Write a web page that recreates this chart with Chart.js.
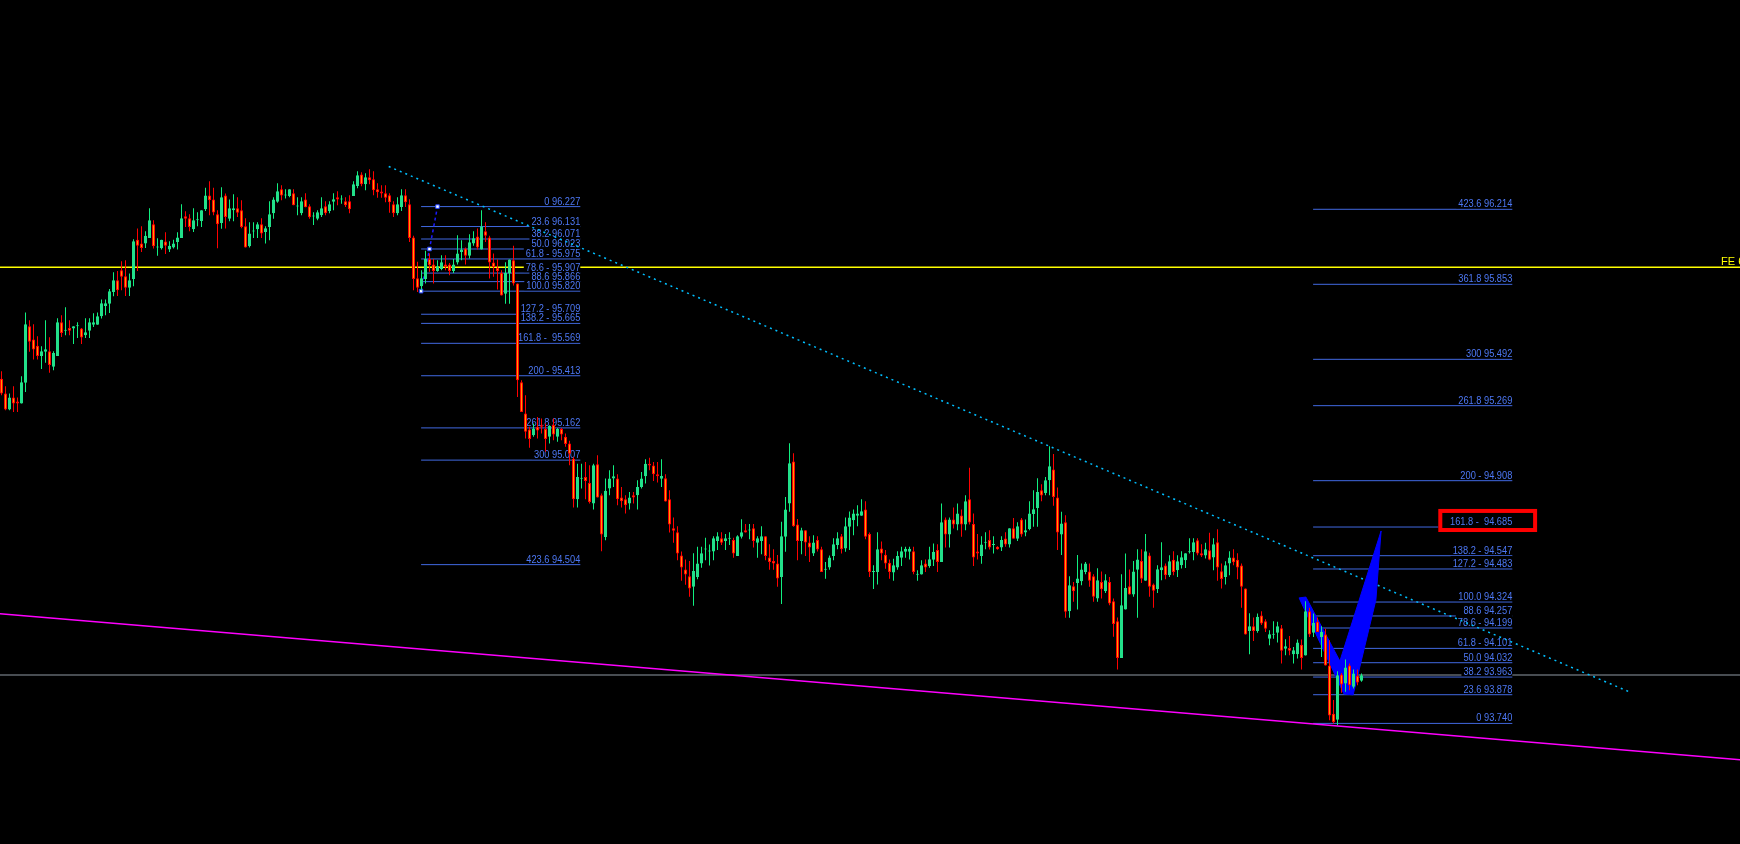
<!DOCTYPE html>
<html>
<head>
<meta charset="utf-8">
<script src="https://cdn.jsdelivr.net/npm/chart.js@4.4.0/dist/chart.umd.min.js"></script>
<style>
  html, body { margin: 0; padding: 0; background: #000; overflow: hidden; }
  canvas { display: block; }
</style>
</head>
<body>
<canvas id="chart" width="1740" height="844"></canvas>
<script>
// candles (one per bar, left to right)
const opens = [
  95.399,95.327,95.250,95.308,95.289,95.279,95.379,95.651,95.587,95.557,
  95.508,95.528,95.531,95.456,95.508,95.670,95.629,95.643,95.640,95.651,
  95.640,95.608,95.629,95.658,95.658,95.699,95.749,95.760,95.816,95.873,
  95.921,95.892,95.836,95.879,96.068,96.049,96.049,96.076,96.142,96.030,
  96.027,96.059,96.020,96.030,96.057,96.076,96.181,96.171,96.118,96.161,
  96.158,96.214,96.280,96.261,96.190,96.148,96.280,96.168,96.209,96.219,
  96.209,96.132,96.036,96.107,96.118,96.142,96.105,96.129,96.195,96.250,
  96.310,96.280,96.278,96.291,96.227,96.195,96.261,96.229,96.179,96.168,
  96.185,96.229,96.206,96.250,96.272,96.261,96.253,96.253,96.278,96.326,
  96.381,96.335,96.368,96.359,96.310,96.300,96.291,96.282,96.238,96.195,
  96.225,96.282,96.238,96.078,95.882,95.844,95.879,95.975,95.948,95.917,
  95.927,95.948,95.948,95.917,95.958,96.009,96.025,95.990,96.049,96.083,
  96.020,96.108,96.078,95.958,95.932,95.909,95.808,95.905,95.969,95.857,
  95.382,95.231,95.154,95.127,95.167,95.175,95.157,95.119,95.176,95.119,
  95.157,95.119,95.087,95.014,94.819,94.917,94.926,94.897,94.798,94.987,
  94.838,94.637,94.870,94.918,94.918,94.827,94.819,94.798,94.838,94.838,
  94.878,94.929,94.990,94.981,94.939,94.917,94.920,94.819,94.679,94.660,
  94.548,94.481,94.448,94.397,94.445,94.509,94.577,94.567,94.567,94.618,
  94.631,94.618,94.628,94.622,94.546,94.638,94.670,94.668,94.679,94.609,
  94.618,94.641,94.538,94.521,94.509,94.445,94.638,94.798,95.000,94.697,
  94.618,94.670,94.610,94.558,94.622,94.578,94.479,94.490,94.546,94.598,
  94.641,94.582,94.686,94.718,94.739,94.739,94.769,94.651,94.468,94.469,
  94.582,94.551,94.513,94.466,94.490,94.537,94.566,94.566,94.569,94.455,
  94.456,94.509,94.498,94.527,94.574,94.517,94.721,94.649,94.721,94.697,
  94.740,94.697,94.819,94.699,94.567,94.546,94.609,94.622,94.599,94.590,
  94.586,94.630,94.601,94.679,94.628,94.721,94.659,94.676,94.748,94.777,
  94.862,94.849,94.910,94.962,94.827,94.649,94.708,94.280,94.400,94.416,
  94.424,94.469,94.471,94.448,94.341,94.420,94.376,94.420,94.328,94.232,
  94.055,94.288,94.400,94.360,94.479,94.521,94.426,94.548,94.408,94.387,
  94.477,94.500,94.453,94.528,94.477,94.501,94.525,94.564,94.565,94.621,
  94.559,94.548,94.573,94.538,94.612,94.472,94.445,94.509,94.538,94.528,
  94.500,94.389,94.185,94.208,94.185,94.259,94.232,94.147,94.166,94.176,
  94.198,94.099,94.103,94.073,94.073,94.119,94.067,94.280,94.176,94.229,
  94.156,94.168,94.018,93.787,93.757,93.975,93.932,94.018,93.916,93.969,
  93.945
];
const highs = [
  95.435,95.362,95.327,95.362,95.308,95.411,95.717,95.680,95.661,95.603,
  95.555,95.680,95.598,95.531,95.690,95.704,95.743,95.680,95.651,95.670,
  95.643,95.690,95.690,95.714,95.717,95.780,95.780,95.831,95.911,95.917,
  95.964,95.969,95.905,96.070,96.121,96.132,96.108,96.219,96.161,96.075,
  96.068,96.104,96.060,96.068,96.104,96.238,96.205,96.190,96.219,96.200,
  96.209,96.318,96.349,96.318,96.209,96.320,96.290,96.261,96.286,96.272,
  96.258,96.171,96.152,96.152,96.152,96.171,96.132,96.253,96.272,96.339,
  96.330,96.310,96.310,96.310,96.272,96.272,96.291,96.238,96.200,96.209,
  96.272,96.253,96.253,96.291,96.301,96.282,96.272,96.282,96.349,96.397,
  96.392,96.387,96.407,96.397,96.339,96.330,96.330,96.291,96.253,96.272,
  96.310,96.310,96.262,96.087,95.961,95.921,96.014,96.001,95.975,95.969,
  95.993,95.993,95.956,95.975,96.089,96.065,96.030,96.094,96.108,96.121,
  96.209,96.152,96.087,96.001,95.972,95.921,95.959,95.972,96.039,95.857,
  95.391,95.319,95.167,95.183,95.215,95.207,95.183,95.175,95.207,95.162,
  95.162,95.135,95.100,95.022,94.990,94.990,94.998,94.982,94.990,95.030,
  94.846,94.918,94.958,94.982,94.939,94.878,94.838,94.854,94.854,94.910,
  94.950,95.011,95.018,94.998,94.998,95.011,94.939,94.862,94.731,94.689,
  94.567,94.529,94.521,94.559,94.590,94.590,94.633,94.601,94.641,94.660,
  94.660,94.651,94.660,94.633,94.646,94.723,94.699,94.699,94.699,94.641,
  94.689,94.641,94.602,94.578,94.550,94.710,94.830,95.088,95.040,94.724,
  94.681,94.670,94.641,94.646,94.641,94.590,94.517,94.548,94.631,94.660,
  94.651,94.731,94.760,94.769,94.790,94.819,94.809,94.659,94.501,94.660,
  94.615,94.574,94.529,94.532,94.569,94.590,94.590,94.590,94.590,94.477,
  94.525,94.529,94.590,94.606,94.602,94.798,94.731,94.731,94.779,94.798,
  94.769,94.838,94.970,94.750,94.651,94.641,94.660,94.670,94.641,94.592,
  94.641,94.660,94.679,94.728,94.708,94.728,94.721,94.809,94.862,94.920,
  94.891,94.926,95.074,95.036,94.875,94.758,94.742,94.448,94.421,94.550,
  94.509,94.517,94.509,94.458,94.487,94.471,94.458,94.445,94.341,94.250,
  94.458,94.558,94.481,94.521,94.578,94.578,94.651,94.561,94.413,94.501,
  94.612,94.509,94.549,94.569,94.549,94.569,94.559,94.631,94.631,94.631,
  94.602,94.609,94.657,94.631,94.674,94.509,94.520,94.569,94.578,94.559,
  94.509,94.389,94.270,94.249,94.269,94.280,94.241,94.188,94.232,94.229,
  94.213,94.145,94.160,94.108,94.144,94.144,94.328,94.296,94.269,94.249,
  94.208,94.196,94.140,93.852,93.991,93.983,94.047,94.028,93.999,93.999,
  93.980
];
const lows = [
  95.319,95.247,95.247,95.239,95.239,95.279,95.335,95.528,95.491,95.491,
  95.446,95.475,95.427,95.440,95.508,95.600,95.608,95.608,95.566,95.595,
  95.566,95.595,95.595,95.648,95.658,95.688,95.704,95.715,95.796,95.797,
  95.824,95.797,95.797,95.844,95.917,96.009,96.028,96.076,96.025,95.990,
  96.020,95.999,96.009,96.025,96.020,96.076,96.129,96.108,96.105,96.132,
  96.129,96.206,96.185,96.185,96.027,96.120,96.121,96.156,96.156,96.177,
  96.123,96.030,96.030,96.076,96.076,96.076,96.049,96.065,96.168,96.246,
  96.258,96.266,96.272,96.233,96.185,96.185,96.224,96.168,96.139,96.161,
  96.177,96.185,96.195,96.209,96.233,96.241,96.225,96.195,96.278,96.315,
  96.325,96.306,96.335,96.282,96.269,96.269,96.248,96.197,96.177,96.185,
  96.206,96.225,96.057,95.824,95.816,95.824,95.857,95.913,95.857,95.913,
  95.921,95.921,95.897,95.908,95.948,95.969,95.948,95.977,96.039,96.020,
  96.020,96.057,95.881,95.889,95.828,95.799,95.760,95.760,95.847,95.311,
  95.239,95.111,95.067,95.119,95.111,95.135,95.047,95.087,95.103,95.095,
  95.103,95.071,94.982,94.779,94.779,94.870,94.819,94.798,94.769,94.827,
  94.569,94.621,94.838,94.878,94.790,94.779,94.750,94.769,94.798,94.769,
  94.870,94.894,94.958,94.907,94.899,94.878,94.808,94.659,94.609,94.525,
  94.426,94.407,94.349,94.306,94.434,94.489,94.525,94.500,94.525,94.574,
  94.598,94.574,94.598,94.537,94.546,94.630,94.659,94.626,94.586,94.537,
  94.554,94.525,94.479,94.479,94.397,94.315,94.566,94.758,94.686,94.525,
  94.554,94.546,94.517,94.546,94.567,94.469,94.436,94.479,94.525,94.578,
  94.558,94.566,94.574,94.646,94.689,94.739,94.626,94.445,94.387,94.408,
  94.525,94.484,94.436,94.426,94.479,94.498,94.537,94.529,94.458,94.426,
  94.456,94.469,94.489,94.498,94.469,94.517,94.586,94.586,94.678,94.670,
  94.638,94.670,94.697,94.498,94.529,94.508,94.578,94.577,94.558,94.576,
  94.570,94.590,94.586,94.628,94.618,94.638,94.641,94.670,94.686,94.686,
  94.809,94.838,94.838,94.787,94.574,94.550,94.248,94.248,94.325,94.288,
  94.405,94.458,94.397,94.325,94.325,94.341,94.368,94.309,94.157,93.999,
  94.055,94.288,94.360,94.349,94.248,94.416,94.426,94.349,94.296,94.368,
  94.429,94.434,94.445,94.453,94.445,94.485,94.488,94.557,94.525,94.549,
  94.541,94.533,94.525,94.477,94.426,94.389,94.408,94.453,94.501,94.434,
  94.296,94.168,94.073,94.137,94.176,94.213,94.180,94.116,94.147,94.129,
  94.028,94.068,94.068,94.028,94.052,93.999,94.067,94.156,94.156,94.180,
  94.060,94.018,93.755,93.739,93.731,93.887,93.892,93.900,93.908,93.924,
  93.940
];
const closes = [
  95.327,95.250,95.308,95.279,95.279,95.382,95.661,95.576,95.539,95.508,
  95.531,95.541,95.465,95.523,95.670,95.619,95.632,95.629,95.651,95.653,
  95.597,95.622,95.670,95.670,95.699,95.762,95.762,95.820,95.873,95.824,
  95.889,95.836,95.873,96.060,96.039,96.028,96.087,96.161,96.036,96.031,
  96.068,96.039,96.039,96.049,96.078,96.171,96.168,96.129,96.161,96.163,
  96.209,96.280,96.258,96.198,96.142,96.272,96.177,96.219,96.219,96.197,
  96.129,96.030,96.097,96.110,96.142,96.097,96.123,96.190,96.261,96.301,
  96.280,96.283,96.310,96.233,96.230,96.253,96.224,96.176,96.182,96.200,
  96.219,96.195,96.238,96.262,96.261,96.264,96.233,96.214,96.335,96.378,
  96.335,96.368,96.354,96.306,96.296,96.290,96.269,96.248,96.195,96.238,
  96.282,96.248,96.076,95.879,95.836,95.882,95.975,95.945,95.917,95.940,
  95.959,95.937,95.917,95.948,96.001,96.020,95.990,96.055,96.075,96.030,
  96.131,96.087,95.958,95.935,95.917,95.799,95.909,95.972,95.857,95.391,
  95.239,95.143,95.109,95.159,95.149,95.167,95.109,95.172,95.130,95.157,
  95.130,95.085,95.038,94.819,94.926,94.920,94.907,94.806,94.982,94.827,
  94.649,94.859,94.918,94.929,94.819,94.809,94.790,94.827,94.827,94.878,
  94.918,94.990,94.981,94.939,94.929,94.930,94.808,94.697,94.667,94.558,
  94.490,94.456,94.389,94.473,94.509,94.559,94.580,94.570,94.631,94.641,
  94.609,94.631,94.631,94.558,94.641,94.660,94.659,94.671,94.618,94.631,
  94.641,94.546,94.517,94.509,94.437,94.641,94.769,94.992,94.689,94.618,
  94.670,94.610,94.586,94.610,94.577,94.469,94.482,94.538,94.602,94.631,
  94.578,94.689,94.731,94.750,94.750,94.761,94.638,94.469,94.471,94.578,
  94.558,94.509,94.469,94.501,94.546,94.569,94.580,94.580,94.469,94.458,
  94.501,94.490,94.530,94.566,94.517,94.708,94.649,94.721,94.697,94.750,
  94.697,94.809,94.707,94.538,94.558,94.601,94.612,94.586,94.602,94.578,
  94.622,94.601,94.679,94.628,94.689,94.649,94.670,94.750,94.771,94.853,
  94.837,94.910,94.978,94.830,94.659,94.702,94.277,94.405,94.376,94.437,
  94.481,94.509,94.426,94.349,94.429,94.386,94.429,94.317,94.218,94.055,
  94.309,94.391,94.360,94.471,94.529,94.436,94.569,94.397,94.378,94.482,
  94.492,94.453,94.520,94.469,94.520,94.540,94.559,94.567,94.612,94.557,
  94.548,94.578,94.528,94.602,94.490,94.435,94.501,94.538,94.516,94.490,
  94.397,94.168,94.208,94.185,94.253,94.221,94.195,94.169,94.169,94.208,
  94.089,94.111,94.089,94.092,94.129,94.055,94.280,94.168,94.224,94.180,
  94.180,94.018,93.778,93.747,93.972,93.927,94.009,93.924,93.980,93.937,
  93.972
];

// fibonacci retracement on the left (labels as printed)
const leftFibLabels = ['0 96.227','23.6 96.131','38.2 96.071','50.0 96.023','61.8 - 95.975','78.6 - 95.907',
  '88.6 95.866','100.0 95.820','127.2 - 95.709','138.2 - 95.665','161.8 -  95.569','200 - 95.413',
  '261.8 95.162','300 95.007','423.6 94.504'];
const leftFibPrices = [96.227,96.131,96.071,96.023,95.975,95.907,95.866,95.820,95.709,95.665,95.569,95.413,95.162,95.007,94.504];
const leftFibSpan = [104.9, 144.7];          // bar index range
const leftFibAnchorX = [104.9, 107, 109];
const leftFibAnchorY = [95.820, 96.023, 96.227];

// fibonacci levels on the right
const rightFibLabels = ['423.6 96.214','361.8 95.853','300 95.492','261.8 95.269','200 - 94.908','161.8 -  94.685',
  '138.2 - 94.547','127.2 - 94.483','100.0 94.324','88.6 94.257','78.6 - 94.199','61.8 - 94.101',
  '50.0 94.032','38.2 93.963','23.6 93.878','0 93.740'];
const rightFibPrices = [96.214,95.853,95.492,95.269,94.908,94.685,94.547,94.483,94.324,94.257,94.199,94.101,94.032,93.963,93.878,93.740];
const rightFibSpan = [327.9, 377.7];

// other drawings
const feLevel = 95.935;
const feLabel = 'FE 61.8';
const feLabelX = 429.9;
const bidLevel = 93.973;
const trendX = [96.8, 406.7];
const trendY = [96.420, 93.894];
const supportX = [-0.4, 434.7];
const supportY = [94.268, 93.565];
// blue V pattern outline (bar index, price)
const patternX = [326.1, 334.6, 344.9, 343.6, 337.9, 335.6, 324.4, 326.1];
const patternY = [94.348, 94.040, 94.666, 94.334, 93.877, 93.882, 94.344, 94.348];
const boxX = [359.2, 383.9];
const boxY = [94.661, 94.772];

const xMin = -0.375, xMax = 434.625;
const yMin = 93.1596, yMax = 97.2212;

const fibColor = '#4169e1';
const bullBody = '#22e08a', bullWick = '#10f080';
const bearBody = '#ff9a00', bearWick = '#ff0000';

const bull = closes.map((c, i) => c >= opens[i]);
const wickData = opens.map((_, i) => ({ x: i, y: [lows[i], highs[i]] }));
const bodyData = opens.map((o, i) => ({ x: i, y: [o, closes[i]] }));

const hLine = (x0, x1, p) => [{ x: x0, y: p }, { x: x1, y: p }];

const fibDatasets = [];
[[leftFibPrices, leftFibSpan], [rightFibPrices, rightFibSpan]].forEach(([prices, span]) => {
  prices.forEach(p => fibDatasets.push({
    type: 'line', data: hLine(span[0], span[1], p),
    borderColor: fibColor, borderWidth: 1, pointRadius: 0, order: 8
  }));
});

const labelPlugin = {
  id: 'fibLabels',
  afterDatasetDraw(chart, args) {
    if (!chart.data.datasets[args.index].labelsAfter) return;
    const { ctx, scales: { x, y } } = chart;
    ctx.save();
    ctx.font = '10px "Liberation Sans Narrow", "Liberation Sans", Arial';
    const k = Math.min(1.1, 54 / ctx.measureText('423.6 96.214').width);

    // red highlight box
    const bx0 = x.getPixelForValue(boxX[0]), bx1 = x.getPixelForValue(boxX[1]);
    const by0 = y.getPixelForValue(boxY[1]), by1 = y.getPixelForValue(boxY[0]);
    ctx.fillStyle = '#000';
    ctx.fillRect(bx0, by0, bx1 - bx0, by1 - by0);
    ctx.strokeStyle = '#ff0000';
    ctx.lineWidth = 4;
    ctx.strokeRect(bx0 + 2, by0 + 2, bx1 - bx0 - 4, by1 - by0 - 4);

    const groups = [[leftFibLabels, leftFibPrices, leftFibSpan[1]], [rightFibLabels, rightFibPrices, rightFibSpan[1]]];
    // backgrounds first, then text
    groups.forEach(([labels, prices, xEnd]) => {
      const xr = x.getPixelForValue(xEnd);
      labels.forEach((t, i) => {
        const yl = y.getPixelForValue(prices[i]);
        const w = ctx.measureText(t).width * k + 2;
        ctx.fillStyle = '#000';
        ctx.fillRect(xr - w, yl - 13, w, 12);
      });
    });
    ctx.fillStyle = '#4d78f5';
    ctx.textAlign = 'right';
    ctx.textBaseline = 'alphabetic';
    groups.forEach(([labels, prices, xEnd]) => {
      const xr = x.getPixelForValue(xEnd);
      labels.forEach((t, i) => {
        const yl = y.getPixelForValue(prices[i]);
        ctx.save();
        ctx.translate(xr, yl - 2);
        ctx.scale(k, 1);
        ctx.fillText(t, 0, 0);
        ctx.restore();
      });
    });

    ctx.font = '11px "Liberation Sans", Arial';
    ctx.fillStyle = '#ffff00';
    ctx.textAlign = 'left';
    ctx.fillText(feLabel, x.getPixelForValue(feLabelX), y.getPixelForValue(feLevel) - 2);
    ctx.restore();
  }
};

new Chart(document.getElementById('chart'), {
  type: 'bar',
  data: {
    datasets: [
      {
        type: 'bar', data: bodyData, order: 0, grouped: false,
        barThickness: 3, minBarLength: 1, borderWidth: 1, borderSkipped: false, inflateAmount: 0,
        backgroundColor: bull.map(b => b ? bullBody : bearBody),
        borderColor: bull.map(b => b ? bullBody : bearWick)
      },
      {
        type: 'bar', data: wickData, order: 1, grouped: false,
        barThickness: 1, borderWidth: 0, inflateAmount: 0,
        backgroundColor: bull.map(b => b ? bullWick : bearWick)
      },
      {
        type: 'line', data: patternX.map((v, i) => ({ x: v, y: patternY[i] })), order: 2,
        borderColor: '#0000ff', backgroundColor: '#0000ff', borderWidth: 1, fill: 'shape',
        pointRadius: 0, tension: 0
      },
      {
        type: 'line', data: leftFibAnchorX.map((v, i) => ({ x: v, y: leftFibAnchorY[i] })), order: 3,
        borderColor: '#1a1aff', borderWidth: 1.5, borderDash: [3, 3],
        pointStyle: 'rect', pointRadius: 2.5, pointBackgroundColor: '#ffffff', pointBorderColor: '#2040ff', pointBorderWidth: 1
      },
      {
        type: 'line', data: trendX.map((v, i) => ({ x: v, y: trendY[i] })), order: 4,
        borderColor: '#00bfff', borderWidth: 1.5, borderDash: [2, 4], pointRadius: 0
      },
      {
        type: 'line', data: supportX.map((v, i) => ({ x: v, y: supportY[i] })), order: 5,
        borderColor: '#ff00ff', borderWidth: 1.5, pointRadius: 0, labelsAfter: true
      },
      {
        type: 'line', data: hLine(xMin, xMax, bidLevel), order: 6,
        borderColor: '#9099a4', borderWidth: 1.2, pointRadius: 0
      },
      {
        type: 'line', data: hLine(xMin, xMax, feLevel), order: 7,
        borderColor: '#ffff00', borderWidth: 1.5, pointRadius: 0
      },
      ...fibDatasets
    ]
  },
  options: {
    responsive: false,
    animation: false,
    devicePixelRatio: 1,
    layout: { padding: 0, autoPadding: false },
    plugins: { legend: { display: false }, tooltip: { enabled: false } },
    scales: {
      x: { type: 'linear', min: xMin, max: xMax, offset: false, display: false },
      y: { type: 'linear', min: yMin, max: yMax, display: false }
    }
  },
  plugins: [labelPlugin]
});
</script>
</body>
</html>
